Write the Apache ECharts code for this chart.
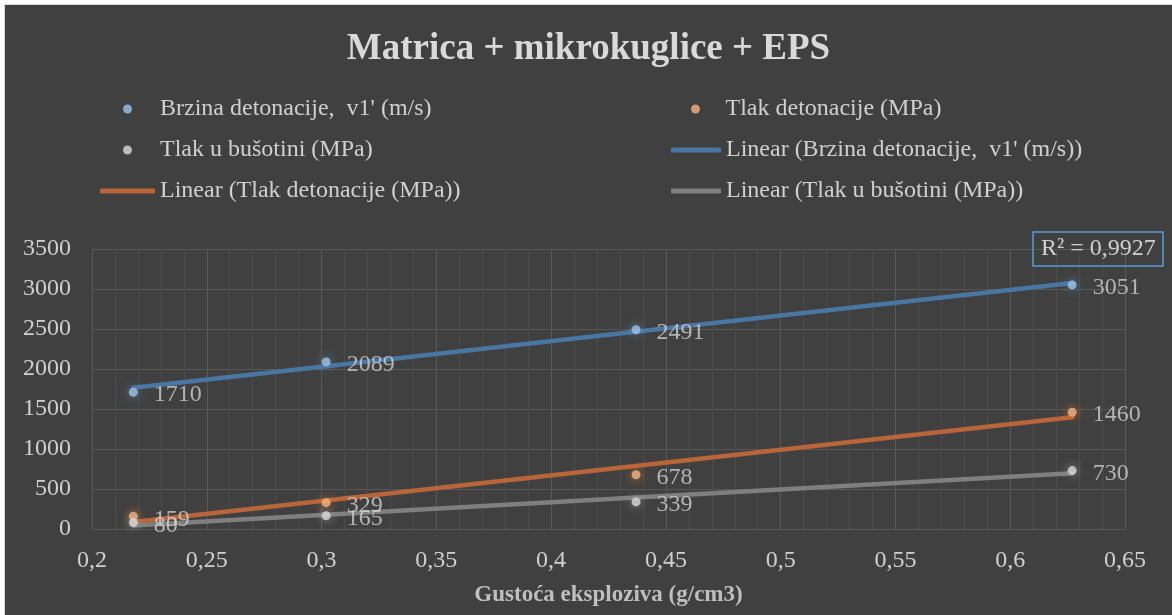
<!DOCTYPE html>
<html>
<head>
<meta charset="utf-8">
<title>Matrica + mikrokuglice + EPS</title>
<script src="https://cdn.jsdelivr.net/npm/echarts@6.0.0/dist/echarts.min.js"></script>
<style>
  html, body { margin: 0; padding: 0; background: #ffffff; }
  #main {
    position: absolute;
    left: 4px;
    top: 4px;
    width: 1167px;
    height: 610px;
    border-left: 1px solid #d9d9d9;
    border-top: 1px solid #d9d9d9;
  }
</style>
</head>
<body>
<div id="main"></div>
<script>
// gustoca eksploziva (g/cm3)
var density = [0.218, 0.302, 0.437, 0.627];
// izmjerene vrijednosti
var brzina = [1710, 2089, 2491, 3051];
var tlakDetonacije = [159, 329, 678, 1460];
var tlakBusotina = [80, 165, 339, 730];

var names = {
  brzina: "Brzina detonacije,  v1' (m/s)",
  tlakDet: 'Tlak detonacije (MPa)',
  tlakBus: 'Tlak u bušotini (MPa)',
  linBrzina: "Linear (Brzina detonacije,  v1' (m/s))",
  linTlakDet: 'Linear (Tlak detonacije (MPa))',
  linTlakBus: 'Linear (Tlak u bušotini (MPa))'
};

var font = 'Liberation Serif';
var textColor = '#d0d0d0';
var gridColor = '#595959';

// linearni trend (najmanji kvadrati) kao u Excelu
function linear(xs, ys) {
  var n = xs.length, mx = 0, my = 0;
  for (var i = 0; i < n; i++) { mx += xs[i]; my += ys[i]; }
  mx /= n; my /= n;
  var sxy = 0, sxx = 0, syy = 0;
  for (var j = 0; j < n; j++) {
    sxy += (xs[j] - mx) * (ys[j] - my);
    sxx += (xs[j] - mx) * (xs[j] - mx);
    syy += (ys[j] - my) * (ys[j] - my);
  }
  var b = sxy / sxx;
  var a = my - b * mx;
  return {
    line: [[xs[0], a + b * xs[0]], [xs[n - 1], a + b * xs[n - 1]]],
    r2: (sxy * sxy) / (sxx * syy)
  };
}

function pairs(xs, ys) {
  return xs.map(function (x, i) { return [x, ys[i]]; });
}

function scatter(name, ys, color, glow) {
  return {
    name: name,
    type: 'scatter',
    data: pairs(density, ys),
    symbolSize: 9,
    z: 4,
    itemStyle: { color: color, shadowBlur: 10, shadowColor: glow },
    label: {
      show: true,
      position: 'right',
      distance: 16,
      offset: [0, 3],
      color: textColor,
      fontFamily: font,
      fontSize: 24,
      formatter: function (p) { return p.value[1]; }
    }
  };
}

function trend(name, fit, color) {
  return {
    name: name,
    type: 'line',
    data: fit.line,
    symbol: 'none',
    z: 3,
    color: color,
    lineStyle: { color: color, width: 4.5, cap: 'round' }
  };
}

// legenda se postavlja po stvarnom obrisu ikone, pa je left za krug veci
function legendItem(name, icon, left, top, w, h) {
  return {
    data: [{ name: name, icon: icon }],
    left: left,
    top: top,
    padding: 0,
    itemWidth: w,
    itemHeight: h,
    selectedMode: false,
    textStyle: { color: textColor, fontFamily: font, fontSize: 24, lineHeight: 24 }
  };
}

var fitBrzina = linear(density, brzina);
var fitTlakDet = linear(density, tlakDetonacije);
var fitTlakBus = linear(density, tlakBusotina);

var chart = echarts.init(document.getElementById('main'));
chart.setOption({
  animation: false,
  backgroundColor: '#404040',
  title: [
    {
      text: 'Matrica + mikrokuglice + EPS',
      left: 'center',
      top: 26,
      padding: 0,
      textStyle: { color: '#d9d9d9', fontFamily: font, fontSize: 37, fontWeight: 'bold', lineHeight: 37 }
    },
    {
      text: 'R² = ' + fitBrzina.r2.toFixed(4).replace('.', ','),
      left: 1028,
      top: 227,
      padding: [5, 8],
      borderColor: '#5b9bd5',
      borderWidth: 1.5,
      textStyle: { color: textColor, fontFamily: font, fontSize: 24, fontWeight: 'normal', lineHeight: 24 }
    }
  ],
  legend: [
    legendItem(names.brzina, 'circle', 118, 92, 55, 9),
    legendItem(names.tlakBus, 'circle', 118, 133, 55, 9),
    legendItem(names.linTlakDet, 'roundRect', 95, 174, 55, 5),
    legendItem(names.tlakDet, 'circle', 686, 92, 50, 9),
    legendItem(names.linBrzina, 'roundRect', 666, 133, 50, 5),
    legendItem(names.linTlakBus, 'roundRect', 666, 174, 50, 5)
  ],
  grid: {
    left: 87,
    right: 47,
    top: 244,
    bottom: 86,
    containLabel: false,
    outerBoundsMode: 'none'
  },
  xAxis: {
    type: 'value',
    min: 0.2,
    max: 0.65,
    interval: 0.05,
    name: 'Gustoća eksploziva (g/cm3)',
    nameLocation: 'middle',
    nameGap: 55,
    nameTextStyle: { color: '#bfbfbf', fontFamily: font, fontSize: 23, fontWeight: 'bold' },
    axisLine: { show: true, lineStyle: { color: gridColor } },
    axisTick: { show: false },
    axisLabel: {
      color: textColor,
      fontFamily: font,
      fontSize: 24,
      lineHeight: 24,
      margin: 20,
      formatter: function (v) { return String(+v.toFixed(2)).replace('.', ','); }
    },
    splitLine: { show: true, lineStyle: { color: gridColor } },
    minorTick: { show: false, splitNumber: 5 },
    minorSplitLine: { show: true, lineStyle: { color: '#4c4c4c' } }
  },
  yAxis: {
    type: 'value',
    min: 0,
    max: 3500,
    interval: 500,
    axisLine: { show: false },
    axisTick: { show: false },
    axisLabel: {
      color: textColor,
      fontFamily: font,
      fontSize: 24,
      margin: 21,
      formatter: function (v) { return String(v); }
    },
    splitLine: { show: true, lineStyle: { color: gridColor } }
  },
  series: [
    scatter(names.brzina, brzina, '#9dc3e6', 'rgba(91,155,213,0.9)'),
    scatter(names.tlakDet, tlakDetonacije, '#f4b183', 'rgba(237,125,49,0.9)'),
    scatter(names.tlakBus, tlakBusotina, '#d9d9d9', 'rgba(200,200,200,0.7)'),
    trend(names.linBrzina, fitBrzina, '#4a76a2'),
    trend(names.linTlakDet, fitTlakDet, '#b8653a'),
    trend(names.linTlakBus, fitTlakBus, '#7f7f7f')
  ]
});
</script>
</body>
</html>
